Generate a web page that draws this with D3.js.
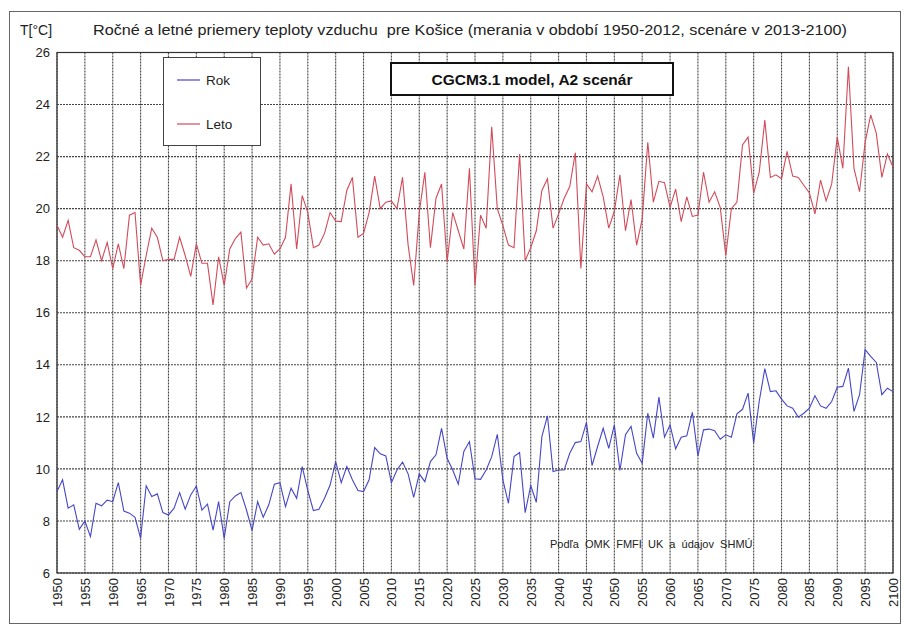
<!DOCTYPE html>
<html>
<head>
<meta charset="utf-8">
<script src="https://cdnjs.cloudflare.com/ajax/libs/d3/7.8.5/d3.min.js"></script>
<style>
  body { margin: 0; background: #fff; }
  svg text { font-family: "Liberation Sans", Arial, sans-serif; }
</style>
</head>
<body>
<svg id="chart"></svg>
<script>
// yearly (Rok) and summer (Leto) mean air temperature, Košice 1950-2100

var years = d3.range(1950, 2101);

var rok = [
  9.13, 9.58, 8.49, 8.62, 7.68, 8.0, 7.4, 8.68, 8.58, 8.8,
  8.74, 9.47, 8.38, 8.3, 8.14, 7.33, 9.35, 8.94, 9.04, 8.32,
  8.23, 8.49, 9.09, 8.45, 9.0, 9.34, 8.42, 8.65, 7.65, 8.74,
  7.33, 8.74, 8.96, 9.09, 8.42, 7.63, 8.74, 8.14, 8.62, 9.41,
  9.47, 8.55, 9.26, 8.87, 10.09, 9.17, 8.4, 8.45, 8.87, 9.38,
  10.28, 9.47, 10.09, 9.58, 9.17, 9.13, 9.58, 10.82, 10.58, 10.5,
  9.47, 9.96, 10.26, 9.81, 8.91, 9.81, 9.51, 10.28, 10.54, 11.56,
  10.41, 9.96, 9.41, 10.67, 11.05, 9.62, 9.6, 9.96, 10.47, 11.33,
  9.58, 8.68, 10.47, 10.63, 8.32, 9.36, 8.72, 11.24, 12.04, 9.9,
  9.96, 9.96, 10.6, 11.01, 11.05, 11.79, 10.13, 10.86, 11.56, 10.79,
  11.69, 9.94, 11.31, 11.63, 10.6, 10.22, 12.14, 11.18, 12.76, 11.22,
  11.69, 10.77, 11.22, 11.27, 12.17, 10.5, 11.5, 11.53, 11.47, 11.14,
  11.31, 11.22, 12.12, 12.29, 12.91, 11.0, 12.6, 13.85, 12.97, 13.0,
  12.68, 12.42, 12.33, 11.99, 12.14, 12.33, 12.81, 12.42, 12.33, 12.59,
  13.14, 13.17, 13.87, 12.21, 12.85, 14.58, 14.32, 14.09, 12.85, 13.1,
  12.97
];

var leto = [
  19.36, 18.9, 19.55, 18.5, 18.4, 18.15, 18.15, 18.8, 18.0, 18.7,
  17.7, 18.65, 17.7, 19.75, 19.85, 17.05, 18.2, 19.25, 18.9, 18.0,
  18.05, 18.05, 18.9, 18.2, 17.4, 18.65, 17.9, 17.9, 16.3, 18.15,
  17.05, 18.45, 18.85, 19.1, 16.95, 17.3, 18.9, 18.6, 18.65, 18.25,
  18.45, 18.9, 20.95, 18.45, 20.5, 19.85, 18.5, 18.6, 19.05, 19.85,
  19.52, 19.5, 20.7, 21.2, 18.9, 19.05, 19.85, 21.25, 20.0, 20.25,
  20.3, 20.0, 21.2, 18.6, 17.05, 19.85, 21.4, 18.5, 20.4, 20.95,
  17.95, 19.85, 19.15, 18.45, 21.55, 17.05, 19.75, 19.25, 23.15, 20.0,
  19.35, 18.6, 18.5, 22.1, 18.0, 18.5, 19.15, 20.7, 21.15, 19.25,
  19.8, 20.4, 20.85, 22.15, 17.7, 20.95, 20.65, 21.25, 20.45, 19.25,
  19.9, 21.3, 19.15, 20.35, 18.6, 19.6, 22.55, 20.25, 21.05, 21.0,
  20.05, 20.75, 19.5, 20.45, 19.7, 19.75, 21.4, 20.25, 20.65, 20.05,
  18.2, 20.0, 20.25, 22.45, 22.75, 20.6, 21.4, 23.4, 21.2, 21.3,
  21.15, 22.2, 21.25, 21.2, 20.9, 20.6, 19.8, 21.1, 20.3, 20.95,
  22.75, 21.55, 25.45, 21.55, 20.65, 22.55, 23.6, 22.9, 21.2, 22.1,
  21.6
];

var yTicks = d3.range(6, 27, 2);
var xTicks = d3.range(1950, 2101, 5);

var width = 904,
    height = 632;

var plot = { left: 57, right: 893, top: 52.5, bottom: 573 };

var blue = '#4646c8',
    red = '#d24b5a',
    gridColor = '#444';

var svg = d3.select('#chart')
  .attr('width', width)
  .attr('height', height);

// outer frame
svg.append('rect')
  .attr('x', 9.5).attr('y', 11.5)
  .attr('width', 891).attr('height', 612)
  .attr('fill', 'none')
  .attr('stroke', '#666')
  .attr('stroke-width', 1);

var x = d3.scaleLinear()
  .domain([1950, 2100])
  .range([plot.left, plot.right]);

var y = d3.scaleLinear()
  .domain([6, 26])
  .range([plot.bottom, plot.top]);

// grid
svg.append('g')
  .selectAll('line')
  .data(xTicks)
  .enter().append('line')
    .attr('x1', function (d) { return x(d); })
    .attr('x2', function (d) { return x(d); })
    .attr('y1', plot.top)
    .attr('y2', plot.bottom)
    .attr('stroke', gridColor)
    .attr('stroke-width', 1.1)
    .attr('stroke-dasharray', '2,1');

svg.append('g')
  .selectAll('line')
  .data(yTicks)
  .enter().append('line')
    .attr('x1', plot.left)
    .attr('x2', plot.right)
    .attr('y1', function (d) { return y(d); })
    .attr('y2', function (d) { return y(d); })
    .attr('stroke', gridColor)
    .attr('stroke-width', 1.1)
    .attr('stroke-dasharray', '2,1');

// plot border
svg.append('rect')
  .attr('x', plot.left).attr('y', plot.top)
  .attr('width', plot.right - plot.left)
  .attr('height', plot.bottom - plot.top)
  .attr('fill', 'none')
  .attr('stroke', '#333')
  .attr('stroke-width', 1.2);

// axes
var yAxis = svg.append('g')
  .attr('transform', 'translate(' + plot.left + ',0)')
  .call(d3.axisLeft(y).tickValues(yTicks).tickSize(0).tickPadding(7));
yAxis.select('.domain').remove();
yAxis.selectAll('text')
  .attr('font-size', 13)
  .attr('fill', '#222');

var xAxis = svg.append('g')
  .attr('transform', 'translate(0,' + plot.bottom + ')')
  .call(d3.axisBottom(x).tickValues(xTicks).tickFormat(d3.format('d')).tickSize(0));
xAxis.select('.domain').remove();
xAxis.selectAll('text')
  .attr('font-size', 13)
  .attr('fill', '#222')
  .attr('transform', 'rotate(-90)')
  .attr('text-anchor', 'end')
  .attr('x', -5)
  .attr('y', 0)
  .attr('dy', '0.35em');

// series
var line = d3.line()
  .x(function (d, i) { return x(years[i]); })
  .y(function (d) { return y(d); });

svg.append('path')
  .datum(leto)
  .attr('fill', 'none')
  .attr('stroke', red)
  .attr('stroke-width', 1.1)
  .attr('d', line);

svg.append('path')
  .datum(rok)
  .attr('fill', 'none')
  .attr('stroke', blue)
  .attr('stroke-width', 1.1)
  .attr('d', line);

// titles
svg.append('text')
  .attr('x', 20).attr('y', 35)
  .attr('font-size', 14)
  .attr('fill', '#222')
  .text('T[°C]');

svg.append('text')
  .attr('x', 93).attr('y', 35)
  .attr('font-size', 14.5)
  .attr('fill', '#222')
  .attr('textLength', 754)
  .attr('lengthAdjust', 'spacingAndGlyphs')
  .style('white-space', 'pre')
  .text('Ročné a letné priemery teploty vzduchu  pre Košice (merania v období 1950-2012, scenáre v 2013-2100)');

// legend
var legend = svg.append('g');
legend.append('rect')
  .attr('x', 163.5).attr('y', 57.5)
  .attr('width', 97).attr('height', 88)
  .attr('fill', '#fff')
  .attr('stroke', '#444')
  .attr('stroke-width', 1);

var legendItems = [
  { name: 'Rok', color: blue, y: 80 },
  { name: 'Leto', color: red, y: 124 }
];
legendItems.forEach(function (item) {
  legend.append('line')
    .attr('x1', 177).attr('x2', 200)
    .attr('y1', item.y).attr('y2', item.y)
    .attr('stroke', item.color)
    .attr('stroke-width', 1.2);
  legend.append('text')
    .attr('x', 206).attr('y', item.y + 5)
    .attr('font-size', 13.5)
    .attr('fill', '#222')
    .text(item.name);
});

// model box
svg.append('rect')
  .attr('x', 391).attr('y', 63)
  .attr('width', 282).attr('height', 32)
  .attr('fill', '#fff')
  .attr('stroke', '#111')
  .attr('stroke-width', 2);

svg.append('text')
  .attr('x', 532).attr('y', 84.5)
  .attr('text-anchor', 'middle')
  .attr('font-size', 15.5)
  .attr('font-weight', 'bold')
  .attr('fill', '#111')
  .text('CGCM3.1 model, A2 scenár');

// source note
svg.append('text')
  .attr('x', 550).attr('y', 548)
  .attr('font-size', 11)
  .attr('fill', '#222')
  .style('white-space', 'pre')
  .text('Podľa  OMK  FMFI  UK  a  údajov  SHMÚ');
</script>
</body>
</html>
